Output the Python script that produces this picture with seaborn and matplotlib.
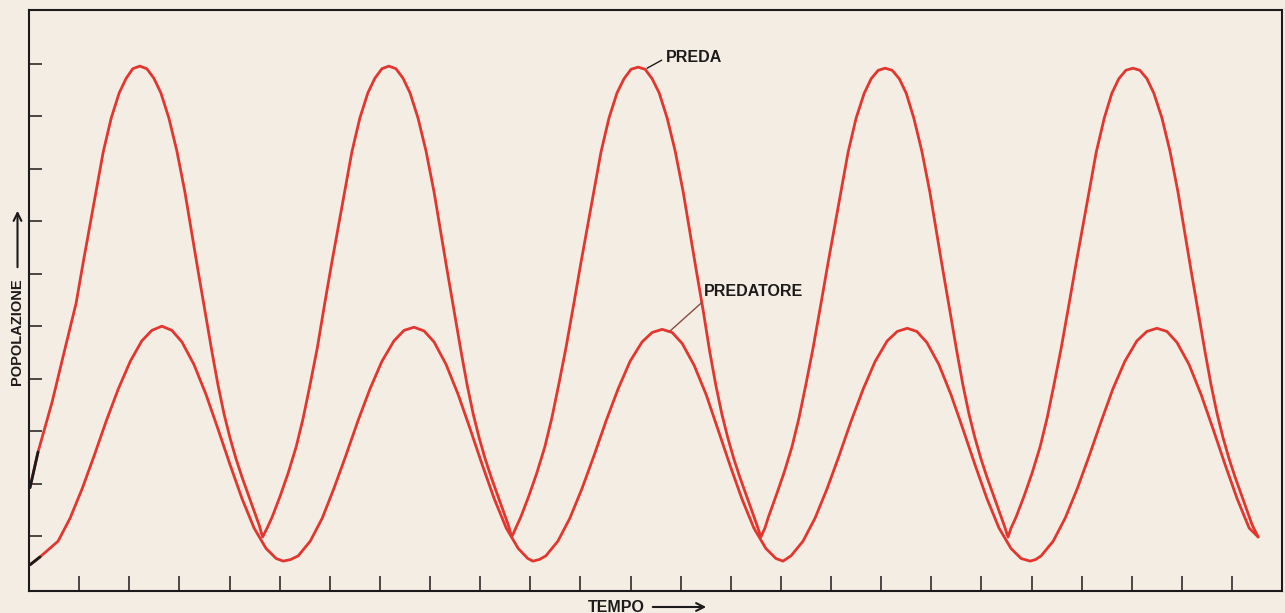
import matplotlib
matplotlib.use("Agg")
import matplotlib.pyplot as plt
import seaborn as sns

# tempo / popolazione (unita' = passo delle tacche)
preda_t = [0.02, 0.18,
           0.46, 0.70, 0.94, 1.08, 1.22, 1.34, 1.48, 1.64, 1.80, 1.94, 2.07, 2.21,
           2.35, 2.49, 2.63, 2.79, 2.95, 3.11, 3.25, 3.37, 3.51, 3.65, 3.77, 3.89, 4.01, 4.13, 4.25, 4.37, 4.49, 4.59, 4.66,
           4.75, 4.85, 5.01, 5.17, 5.33, 5.47, 5.61, 5.75, 5.90, 6.04, 6.18, 6.30, 6.44, 6.60, 6.76, 6.90, 7.04, 7.18,
           7.32, 7.46, 7.60, 7.76, 7.92, 8.08, 8.22, 8.34, 8.48, 8.62, 8.74, 8.86, 8.98, 9.10, 9.22, 9.34, 9.46, 9.56, 9.63,
           9.71, 9.81, 9.97, 10.13, 10.29, 10.43, 10.57, 10.71, 10.87, 11.01, 11.15, 11.27, 11.41, 11.57, 11.73, 11.87, 12.01, 12.15,
           12.29, 12.43, 12.57, 12.73, 12.89, 13.05, 13.19, 13.31, 13.45, 13.58, 13.70, 13.82, 13.94, 14.06, 14.18, 14.30, 14.42, 14.52, 14.60,
           14.68, 14.75, 14.90, 15.06, 15.22, 15.36, 15.50, 15.64, 15.80, 15.94, 16.08, 16.20, 16.34, 16.50, 16.66, 16.80, 16.94, 17.08,
           17.22, 17.36, 17.50, 17.65, 17.81, 17.97, 18.11, 18.23, 18.37, 18.51, 18.63, 18.75, 18.87, 18.99, 19.11, 19.23, 19.35, 19.45, 19.53,
           19.59, 19.69, 19.85, 20.01, 20.17, 20.31, 20.45, 20.59, 20.75, 20.89, 21.03, 21.15, 21.29, 21.45, 21.60, 21.74, 21.88, 22.02,
           22.16, 22.30, 22.44, 22.60, 22.76, 22.92, 23.06, 23.18, 23.32, 23.46, 23.58, 23.70, 23.82, 23.94, 24.06, 24.18, 24.30, 24.40, 24.52]
preda = [1.92, 2.60,
         3.55, 4.50, 5.44, 6.21, 6.95, 7.58, 8.32, 8.97, 9.45, 9.73, 9.91, 9.96,
         9.91, 9.73, 9.45, 8.97, 8.34, 7.56, 6.76, 6.07, 5.29, 4.51, 3.88, 3.33, 2.87, 2.47, 2.12, 1.80, 1.48, 1.21, 0.98,
         1.15, 1.36, 1.76, 2.20, 2.70, 3.25, 3.90, 4.58, 5.44, 6.21, 6.95, 7.58, 8.32, 8.97, 9.45, 9.73, 9.91, 9.96,
         9.91, 9.73, 9.45, 8.97, 8.34, 7.56, 6.76, 6.07, 5.29, 4.51, 3.88, 3.33, 2.87, 2.47, 2.12, 1.80, 1.48, 1.21, 0.98,
         1.15, 1.36, 1.76, 2.20, 2.70, 3.25, 3.90, 4.58, 5.44, 6.21, 6.95, 7.58, 8.32, 8.97, 9.45, 9.72, 9.90, 9.94,
         9.90, 9.72, 9.45, 8.97, 8.34, 7.56, 6.76, 6.07, 5.29, 4.51, 3.88, 3.33, 2.87, 2.47, 2.12, 1.80, 1.48, 1.21, 0.98,
         1.15, 1.36, 1.76, 2.20, 2.70, 3.25, 3.90, 4.58, 5.44, 6.21, 6.95, 7.58, 8.32, 8.97, 9.44, 9.72, 9.88, 9.92,
         9.88, 9.72, 9.44, 8.97, 8.34, 7.56, 6.76, 6.07, 5.29, 4.51, 3.88, 3.33, 2.87, 2.47, 2.12, 1.80, 1.48, 1.21, 0.98,
         1.15, 1.36, 1.76, 2.20, 2.70, 3.25, 3.90, 4.58, 5.44, 6.21, 6.95, 7.58, 8.32, 8.97, 9.44, 9.72, 9.88, 9.92,
         9.88, 9.72, 9.44, 8.97, 8.34, 7.56, 6.76, 6.07, 5.29, 4.51, 3.88, 3.33, 2.87, 2.47, 2.12, 1.80, 1.48, 1.21, 0.98]

predatore_t = [0.02, 0.22,
               0.58, 0.82, 1.06, 1.30, 1.54, 1.78, 2.02, 2.25, 2.45, 2.65,
               2.85, 3.05, 3.29, 3.53, 3.77, 4.01, 4.25, 4.49, 4.73, 4.93, 5.07, 5.22,
               5.37, 5.61, 5.85, 6.08, 6.32, 6.56, 6.80, 7.04, 7.28, 7.48, 7.68,
               7.88, 8.08, 8.32, 8.56, 8.80, 9.04, 9.28, 9.52, 9.76, 9.95, 10.05, 10.18,
               10.31, 10.55, 10.79, 11.03, 11.27, 11.51, 11.75, 11.99, 12.23, 12.43, 12.63,
               12.83, 13.03, 13.27, 13.51, 13.74, 13.98, 14.22, 14.46, 14.70, 14.90, 15.04,
               15.20, 15.44, 15.68, 15.92, 16.16, 16.40, 16.64, 16.88, 17.12, 17.32, 17.52,
               17.71, 17.91, 18.15, 18.39, 18.63, 18.87, 19.11, 19.35, 19.59, 19.79, 19.97, 20.08,
               20.19, 20.43, 20.67, 20.91, 21.15, 21.39, 21.62, 21.86, 22.10, 22.30, 22.50,
               22.70, 22.90, 23.14, 23.38, 23.62, 23.86, 24.10, 24.34, 24.52]
predatore = [0.45, 0.60,
             0.90, 1.34, 1.90, 2.53, 3.19, 3.80, 4.33, 4.72, 4.92, 5.00,
             4.92, 4.70, 4.27, 3.70, 3.04, 2.36, 1.71, 1.15, 0.76, 0.57, 0.52, 0.55,
             0.62, 0.90, 1.34, 1.90, 2.53, 3.19, 3.80, 4.33, 4.72, 4.92, 4.98,
             4.91, 4.70, 4.27, 3.70, 3.04, 2.36, 1.71, 1.15, 0.76, 0.57, 0.52, 0.55,
             0.62, 0.90, 1.34, 1.90, 2.53, 3.19, 3.80, 4.33, 4.70, 4.88, 4.94,
             4.88, 4.67, 4.25, 3.69, 3.04, 2.36, 1.71, 1.15, 0.76, 0.57, 0.52,
             0.62, 0.90, 1.34, 1.90, 2.53, 3.19, 3.80, 4.33, 4.72, 4.90, 4.96,
             4.90, 4.69, 4.27, 3.70, 3.04, 2.36, 1.71, 1.15, 0.76, 0.57, 0.52, 0.55,
             0.62, 0.90, 1.34, 1.90, 2.53, 3.19, 3.80, 4.33, 4.72, 4.90, 4.96,
             4.90, 4.69, 4.27, 3.70, 3.04, 2.36, 1.71, 1.15, 0.98]

x_ticks = list(range(1, 25))
y_ticks = list(range(1, 11))

PAPER = "#f4ede4"
RED = "#e3362f"
INK = "#1c1a1a"

sns.set_style("white")
plt.rcParams['font.family'] = ['Liberation Sans', 'DejaVu Sans']

W, H = 1285, 613
fig = plt.figure(figsize=(W / 100, H / 100), dpi=100, facecolor=PAPER)
ax = fig.add_axes([29 / W, 22 / H, 1253 / W, 581 / H])
ax.set_facecolor(PAPER)

line_kw = dict(linewidth=2.0, sort=False, estimator=None, solid_joinstyle='round', solid_capstyle='round')
sns.lineplot(x=preda_t, y=preda, ax=ax, color=RED, **line_kw)
sns.lineplot(x=predatore_t, y=predatore, ax=ax, color=RED, **line_kw)
# il primo tratto delle curve e' stampato in nero
sns.lineplot(x=preda_t[:2], y=preda[:2], ax=ax, color=INK, **line_kw)
sns.lineplot(x=predatore_t[:2], y=predatore[:2], ax=ax, color=INK, **line_kw)

ax.set_xlim(0, 24.995)
ax.set_ylim(-0.05, 11.03)
ax.set_xticks(x_ticks)
ax.set_yticks(y_ticks)
ax.tick_params(axis='x', bottom=True, direction='in', length=10.8, width=1.1, color=INK, labelbottom=False)
ax.tick_params(axis='y', left=True, direction='in', length=9.4, width=1.1, color=INK, labelleft=False)
ax.set_xlabel("")
ax.set_ylabel("")
for s in ax.spines.values():
    s.set_visible(True)
    s.set_color(INK)
    s.set_linewidth(1.5)

ax.annotate("PREDA", xy=(12.33, 9.92), xytext=(12.71, 10.12), ha='left', va='center',
            fontsize=11.5, fontweight='bold', color=INK,
            arrowprops=dict(arrowstyle='-', color=INK, lw=1.0, shrinkA=1, shrinkB=0, relpos=(0, 0.5)))
ax.annotate("PREDATORE", xy=(12.79, 4.91), xytext=(13.47, 5.67), ha='left', va='center',
            fontsize=11.5, fontweight='bold', color=INK,
            arrowprops=dict(arrowstyle='-', color='#8a4a44', lw=1.0, shrinkA=1, shrinkB=0, relpos=(0.02, 0)))

# etichette degli assi con freccia
fig.text(17.5 / W, 1 - 332 / H, "POPOLAZIONE", rotation=90, ha='center', va='center',
         fontsize=10.5, fontweight='bold', color=INK)
fig.text(616 / W, 1 - 607 / H, "TEMPO", ha='center', va='center',
         fontsize=11.5, fontweight='bold', color=INK)
fig.patches.append(matplotlib.patches.FancyArrowPatch(
    (17.5 / W, 1 - 270 / H), (17.5 / W, 1 - 208 / H), transform=fig.transFigure,
    arrowstyle='->', mutation_scale=14, lw=1.5, color=INK))
fig.patches.append(matplotlib.patches.FancyArrowPatch(
    (650 / W, 1 - 607 / H), (709 / W, 1 - 607 / H), transform=fig.transFigure,
    arrowstyle='->', mutation_scale=14, lw=1.5, color=INK))

fig.savefig("out.png", dpi=100, facecolor=PAPER)
